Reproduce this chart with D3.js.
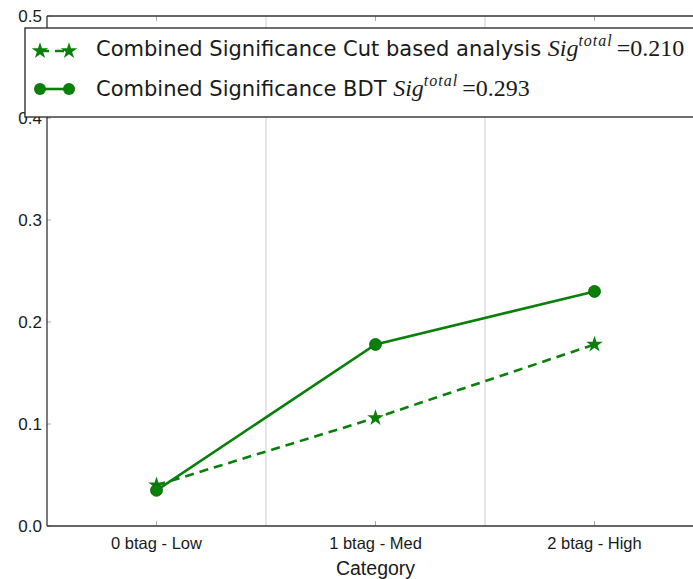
<!DOCTYPE html>
<html>
<head>
<meta charset="utf-8">
<script src="https://cdn.jsdelivr.net/npm/d3@7"></script>
<style>
  html, body { margin: 0; padding: 0; background: #fff; }
  svg { display: block; }
</style>
</head>
<body>
<svg id="chart" width="693" height="579"></svg>
<script>
const categories = ["0 btag - Low", "1 btag - Med", "2 btag - High"];
const cutValues = [0.040, 0.106, 0.178];
const bdtValues = [0.035, 0.178, 0.230];
const yTicks = [0.0, 0.1, 0.2, 0.3, 0.4, 0.5];
const gridPositions = [0.5, 1.5];
const cutLabel = "Combined Significance Cut based analysis";
const bdtLabel = "Combined Significance BDT";
const cutTotal = "=0.210";
const bdtTotal = "=0.293";
const xLabel = "Category";

const svg = d3.select("#chart");
const green = "#0a7f0a";

const x = d3.scaleLinear().domain([-0.5, 2.5]).range([47, 704]);
const y = d3.scaleLinear().domain([0, 0.5]).range([526, 16]);

// grid lines (between categories)
svg.append("g").selectAll("line").data(gridPositions).join("line")
  .attr("x1", d => x(d)).attr("x2", d => x(d))
  .attr("y1", y(0)).attr("y2", y(0.5))
  .attr("stroke", "#cccccc").attr("stroke-width", 1);

// inward tick marks
const tickG = svg.append("g");
[0, 1, 2].forEach(i => {
  tickG.append("line").attr("x1", x(i)).attr("x2", x(i)).attr("y1", y(0)).attr("y2", y(0) - 5)
    .attr("stroke", "#aaa").attr("stroke-width", 1);
  tickG.append("line").attr("x1", x(i)).attr("x2", x(i)).attr("y1", y(0.5)).attr("y2", y(0.5) + 5)
    .attr("stroke", "#aaa").attr("stroke-width", 1);
});
yTicks.forEach(t => {
  tickG.append("line").attr("x1", x(-0.5)).attr("x2", x(-0.5) + 4).attr("y1", y(t)).attr("y2", y(t))
    .attr("stroke", "#aaa").attr("stroke-width", 1);
});

// spines
svg.append("line").attr("x1", x(-0.5)).attr("x2", x(-0.5)).attr("y1", y(0)).attr("y2", y(0.5))
  .attr("stroke", "#333").attr("stroke-width", 1.3);
svg.append("line").attr("x1", x(-0.5)).attr("x2", 693).attr("y1", y(0)).attr("y2", y(0))
  .attr("stroke", "#333").attr("stroke-width", 1.3);
svg.append("line").attr("x1", x(-0.5)).attr("x2", 693).attr("y1", y(0.5)).attr("y2", y(0.5))
  .attr("stroke", "#333").attr("stroke-width", 1.3);

// y tick labels
svg.append("g").selectAll("text").data(yTicks).join("text")
  .attr("x", 42).attr("y", d => y(d)).attr("dy", "0.35em")
  .attr("text-anchor", "end")
  .attr("font-family", "Liberation Sans, Arial, sans-serif").attr("font-size", 17)
  .attr("fill", "#1a1a1a")
  .text(d => d.toFixed(1));

// x tick labels
svg.append("g").selectAll("text").data(categories).join("text")
  .attr("x", (d, i) => x(i)).attr("y", 549)
  .attr("text-anchor", "middle")
  .attr("font-family", "Liberation Sans, Arial, sans-serif").attr("font-size", 16.5)
  .attr("fill", "#1a1a1a")
  .text(d => d);

svg.append("text").attr("x", x(1)).attr("y", 575).attr("text-anchor", "middle")
  .attr("font-family", "Liberation Sans, Arial, sans-serif").attr("font-size", 19.5)
  .attr("fill", "#1a1a1a").text(xLabel);

// series
const line = d3.line().x((d, i) => x(i)).y(d => y(d));
const star = d3.symbol().type(d3.symbolStar).size(85);

svg.append("path").datum(cutValues).attr("d", line)
  .attr("fill", "none").attr("stroke", green).attr("stroke-width", 2.6)
  .attr("stroke-dasharray", "9,6");
svg.append("path").datum(bdtValues).attr("d", line)
  .attr("fill", "none").attr("stroke", green).attr("stroke-width", 2.6);

svg.append("g").selectAll("path").data(cutValues).join("path")
  .attr("d", star).attr("transform", (d, i) => `translate(${x(i)},${y(d)})`)
  .attr("fill", green);
svg.append("g").selectAll("circle").data(bdtValues).join("circle")
  .attr("cx", (d, i) => x(i)).attr("cy", d => y(d)).attr("r", 6)
  .attr("fill", green).attr("stroke", "#0a5f0a").attr("stroke-width", 0.8);

// legend
const lg = svg.append("g");
lg.append("rect").attr("x", 25).attr("y", 28).attr("width", 720).attr("height", 89)
  .attr("fill", "#fff").attr("stroke", "#222").attr("stroke-width", 1.3);

// row 1: dashed star
lg.append("line").attr("x1", 40).attr("x2", 69).attr("y1", 51).attr("y2", 51)
  .attr("stroke", green).attr("stroke-width", 2.6).attr("stroke-dasharray", "9,6");
[40, 69].forEach(px => lg.append("path").attr("d", star).attr("transform", `translate(${px},51)`).attr("fill", green));
// row 2: solid circles
lg.append("line").attr("x1", 40).attr("x2", 69).attr("y1", 89).attr("y2", 89)
  .attr("stroke", green).attr("stroke-width", 2.6);
[40, 69].forEach(px => lg.append("circle").attr("cx", px).attr("cy", 89).attr("r", 6).attr("fill", green));

function legendText(yBase, label, total) {
  const t = lg.append("text").attr("x", 96).attr("y", yBase)
    .attr("font-family", "DejaVu Sans, sans-serif").attr("font-size", 21).attr("fill", "#1a1a1a");
  t.append("tspan").text(label + " ");
  t.append("tspan").attr("font-family", "Liberation Serif, serif").attr("font-style", "italic").attr("font-size", 24).text("Sig");
  t.append("tspan").attr("font-family", "Liberation Serif, serif").attr("font-style", "italic").attr("font-size", 16)
    .attr("letter-spacing", 1).attr("dy", -10).text("total");
  t.append("tspan").attr("font-family", "Liberation Serif, serif").attr("font-size", 24).attr("dy", 10)
    .attr("dx", 4).text(total);
}
legendText(56, cutLabel, cutTotal);
legendText(96, bdtLabel, bdtTotal);
</script>
</body>
</html>
